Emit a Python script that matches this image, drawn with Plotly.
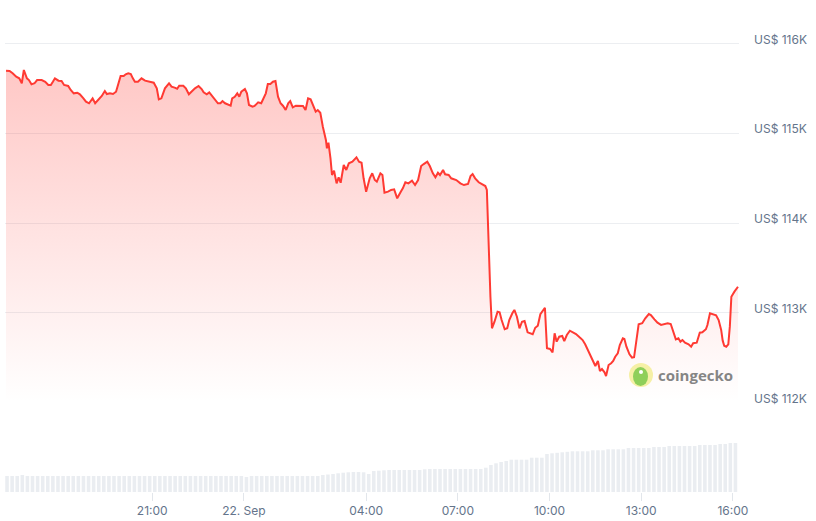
import pandas as pd
import plotly.graph_objects as go

# ---- data ----
# minutes after 2025-09-21 16:00
minutes = [13,20,26,33,39,44,48,54,58,63,69,74,83,90,96,101,105,109,116,122,127,135,140,146,153,158,165,170,176,183,188,194,201,207,211,217,223,229,233,238,244,248,253,258,
           262,266,272,279,286,295,303,309,313,318,325,333,338,344,349,353,361,366,372,377,384,391,397,401,407,412,416,423,429,434,438,443,449,454,457,462,467,471,475,482,486,490,497,501,508,514,
           523,527,532,537,542,547,552,557,562,567,571,576,582,590,596,601,606,611,616,621,625,630,635,641,643,646,650,653,657,662,666,670,676,681,686,693,701,706,711,715,720,727,732,737,741,748,752,756,
           763,769,775,781,788,792,797,803,810,816,822,828,833,840,845,851,856,861,865,871,875,882,887,897,905,912,920,925,929,934,941,947,954,957,
           960,964,967,972,978,982,986,992,997,1001,1007,1011,1016,1021,1026,1031,1037,1044,1047,1052,1057,1062,1067,1071,1073,1075,1081,1086,1090,1094,
           1099,1105,1109,1114,1120,1126,1132,1139,1145,1150,1155,1160,1165,1170,1175,1179,1183,1188,1191,1196,1201,1205,1209,1214,1218,1224,1227,1231,1237,1242,1246,1251,1255,1262,
           1268,1275,1279,1286,1292,1299,1305,1312,1318,1323,1328,1333,1337,1341,1346,1353,1358,1362,1369,1375,1380,1387,1390,1395,1400,1407,1412,1417,1420,1423,1427,1431,1434,1437,1443,1447,1450]

prices = [115697,115694,115668,115630,115612,115557,115705,115612,115593,115545,115557,115593,115593,115574,115538,115538,115574,115612,115586,115582,115538,115527,115482,115445,115452,115434,115389,115352,115334,115389,115334,115371,115415,115471,115437,115445,115437,115463,115538,115638,115638,115657,115668,115660,
          115612,115574,115574,115612,115586,115574,115563,115501,115378,115389,115501,115557,115519,115508,115496,115530,115530,115501,115434,115463,115501,115527,115493,115456,115434,115456,115426,115371,115334,115334,115359,115334,115315,115307,115389,115407,115445,115407,115463,115493,115445,115315,115296,115304,115345,115334,
          115445,115549,115549,115574,115582,115407,115334,115304,115259,115334,115359,115289,115307,115307,115304,115259,115389,115378,115315,115240,115259,115229,115073,114925,114832,114895,114721,114535,114583,114442,114509,114449,114646,114591,114665,114683,114732,114683,114672,114498,114349,114498,114554,114479,114460,114554,114535,114338,
          114349,114368,114375,114275,114349,114387,114454,114442,114471,114423,114479,114635,114657,114683,114635,114554,114509,114560,114535,114591,114543,114535,114498,114479,114442,114423,114435,114524,114546,114498,114454,114431,114412,114368,
          113774,113179,112827,112900,113012,113005,112919,112816,112827,112919,112994,113031,112956,112827,112900,112908,112782,112763,112760,112833,112856,112983,113031,113056,112827,112604,112596,112559,112771,112678,
          112733,112741,112685,112752,112800,112782,112763,112726,112696,112648,112585,112518,112466,112407,112462,112351,112373,112337,112295,112418,112437,112462,112510,112548,112641,112715,112708,112622,112537,112499,112504,112715,112871,112883,
          112938,112986,112975,112927,112889,112864,112871,112883,112875,112789,112704,112715,112678,112696,112666,112648,112622,112660,112666,112778,112782,112816,112864,112994,112986,112972,112919,112808,112689,112633,112622,112648,112845,113179,113235,113272,113290]

# 24h volume bars (arbitrary units, 10-minute bars starting 16:15)
volume = [16,16,16,17,16,16,16,16,16,16,16,16,16,16,16,16,16,16,16,16,16,16,16,16,16,16,16,16,16,16,16,16,16,16,16,16,16,16,16,16,16,16,16,16,16,16,16,
          15,
          16,16,16,16,16,16,16,16,16,16,16,16,16,16,
          17,17.5,18,18.7,19.3,19.7,20,20,19.7,18,21,21.3,21.7,22,
          22,22,22,22,22,22,
          22.7,
          23,23,23,23,23,23,23,23,23,23,23,
          24.3,27,28.7,30,31,
          32.3,32.3,32.3,32.3,
          34.3,34.3,34.3,
          38,38.7,39.2,39.7,40.2,
          40.7,40.7,40.7,40.7,
          41.7,41.7,41.7,
          42.7,42.7,42.7,42.7,
          44,44,44,44,44,
          45,45,45,
          46,46,46,46,46,46,
          47,47,47,47,
          48,48,
          49,49]

x_tick_times = ["2025-09-21 21:00", "2025-09-22 00:00", "2025-09-22 04:00", "2025-09-22 07:00",
                "2025-09-22 10:00", "2025-09-22 13:00", "2025-09-22 16:00"]
x_tick_labels = ["21:00", "22. Sep", "04:00", "07:00", "10:00", "13:00", "16:00"]
y_tick_vals = [112000, 113000, 114000, 115000, 116000]
y_tick_labels = ["US$ 112K", "US$ 113K", "US$ 114K", "US$ 115K", "US$ 116K"]

# ---- build ----
t0 = pd.Timestamp("2025-09-21 16:00")
times = t0 + pd.to_timedelta(minutes, unit="min")
vol_times = pd.date_range("2025-09-21 16:15", periods=len(volume), freq="10min")

RED = "#ff3a33"
GREY_TXT = "#64748b"

fig = go.Figure()

fig.add_trace(go.Bar(
    x=vol_times, y=volume, xaxis="x", yaxis="y2",
    marker=dict(color="#eaedf1", line=dict(width=0)),
    hoverinfo="skip", showlegend=False,
))

fig.add_trace(go.Scatter(
    x=times, y=prices, xaxis="x", yaxis="y",
    mode="lines", line=dict(color=RED, width=2),
    fill="tozeroy",
    fillgradient=dict(type="vertical", start=112000, stop=115700,
                      colorscale=[[0, "rgba(255,58,51,0.0)"], [1, "rgba(255,58,51,0.28)"]]),
    showlegend=False,
))

# watermark
lx, ly = (641 - 5) / 734, (492 - 375) / 492
fig.add_shape(type="circle", xref="paper", yref="paper", xsizemode="pixel", ysizemode="pixel",
              xanchor=lx, yanchor=ly, x0=-12, x1=12, y0=-12, y1=12,
              fillcolor="#f6f0a6", line=dict(width=0), layer="above")
fig.add_shape(type="circle", xref="paper", yref="paper", xsizemode="pixel", ysizemode="pixel",
              xanchor=lx, yanchor=ly, x0=-8, x1=7, y0=-11, y1=8,
              fillcolor="#8fcf5a", line=dict(width=0), layer="above")
fig.add_shape(type="circle", xref="paper", yref="paper", xsizemode="pixel", ysizemode="pixel",
              xanchor=lx, yanchor=ly, x0=-2, x1=2, y0=1, y1=5,
              fillcolor="white", line=dict(width=0), layer="above")
fig.add_annotation(text="<b>coingecko</b>", xref="paper", yref="paper",
                   x=(656 - 5) / 734, y=ly, xanchor="left", yanchor="middle", showarrow=False,
                   font=dict(family="Open Sans, sans-serif", size=15, color="#858585"))

fig.update_layout(
    width=816, height=521,
    margin=dict(l=5, r=77, t=0, b=29, autoexpand=False),
    paper_bgcolor="white", plot_bgcolor="white",
    font=dict(family="Inter, Roboto, sans-serif", size=12, color=GREY_TXT),
    bargap=0.3,
    xaxis=dict(
        type="date", anchor="y2",
        range=["2025-09-21 16:11", "2025-09-22 16:12"],
        tickvals=x_tick_times, ticktext=x_tick_labels,
        ticks="outside", ticklen=8, tickcolor="#e2e6eb", tickwidth=1,
        showgrid=False, showline=False, zeroline=False,
        tickfont=dict(size=12, color=GREY_TXT),
    ),
    yaxis=dict(
        domain=[(492 - 402.5) / 492, (492 - 20) / 492],
        range=[112000, 116262],
        side="right",
        tickvals=y_tick_vals, ticktext=y_tick_labels,
        showgrid=True, gridcolor="#eceef1", gridwidth=1,
        zeroline=False, showline=False, ticks="",
        ticklabelstandoff=14, ticklabelshift=-4,
        tickfont=dict(size=12, color=GREY_TXT),
    ),
    yaxis2=dict(
        domain=[0, 72 / 492], range=[0, 72],
        showgrid=False, zeroline=False, showline=False, showticklabels=False, ticks="",
    ),
)

fig.write_html("out.html", config={"displayModeBar": False},
               post_script="document.body.style.margin='0';")
